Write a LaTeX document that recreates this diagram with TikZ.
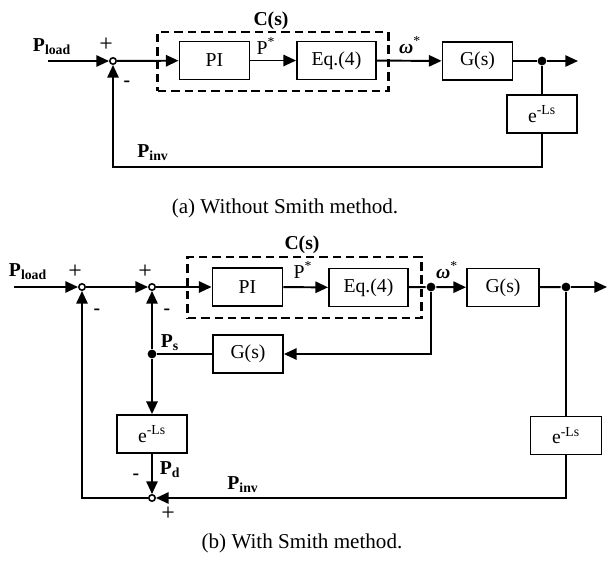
\documentclass[tikz,border=0pt]{standalone}
\usepackage{fontspec}
\setmainfont{Liberation Serif}
\usepackage{tikz}
\usetikzlibrary{arrows.meta,positioning,calc}

\begin{document}
\begin{tikzpicture}[x=0.025cm,y=-0.025cm,>={Triangle[length=9pt,width=8pt]},
  line width=1.4pt,font=\fontsize{14}{16}\selectfont,
  blk/.style={draw,line width=1.3pt,inner sep=0pt,minimum width=1.75cm,minimum height=0.95cm},
  sumj/.style={draw,circle,fill=white,line width=1.1pt,inner sep=0pt,minimum size=0.16cm},
  dotj/.style={circle,fill,inner sep=0pt,minimum size=0.22cm},
  cbox/.style={draw,line width=2.1pt,dash pattern=on 6pt off 3.5pt,inner sep=0pt},
  lbl/.style={inner sep=0pt},
  sgn/.style={inner sep=0pt,font=\fontsize{17}{19}\selectfont},
  capt/.style={inner sep=0pt,font=\fontsize{15}{17}\selectfont}]
  \useasboundingbox (0,0) rectangle (608,566);
  % (a) without Smith
  \coordinate (ina) at (48,61);
  \node[cbox,minimum width=5.75cm,minimum height=1.475cm] (ca) at (273,61.5) {};
  \node[sumj] (sa) at (113,61) {};
  \node[blk] (pia) at (214.5,60.5) {PI};
  \node[blk,minimum width=1.975cm] (eqa) at (336.5,60.5) {Eq.(4)};
  \node[blk] (ga) at (477.5,61) {G(s)};
  \node[dotj] (da) at (542,61) {};
  \coordinate (outa) at (578,61);
  \node[blk] (ea) at (542,114) {e\textsuperscript{-Ls}};
  \coordinate (ba) at (113,167);
  \draw[->] (ina) -- (sa);
  \draw[->] (sa) -- (pia);
  \draw[->] (pia) -- (eqa);
  \draw[->] (eqa) -- (ga);
  \draw (ga) -- (da);
  \draw[->] (da) -- (outa);
  \draw (da) -- (ea);
  \draw[->] (ea) |- (ba) -- (sa);
  \node[lbl] (ploada) at (52,47) {\textbf{P\textsubscript{load}}};
  \node[sgn] (pla) at (106,45) {+};
  \node[lbl] (mia) at (127,84) {\textbf{-}};
  \node[lbl] (psta) at (266,46) {P\textsuperscript{*}};
  \node[lbl] (wa) at (410,45) {\textbf{\textit{ω}}\textsuperscript{*}};
  \node[lbl] (csa) at (271,21) {\textbf{C(s)}};
  \node[lbl] (pinva) at (153,153) {\textbf{P\textsubscript{inv}}};
  \node[capt] (capa) at (285,208) {(a) Without Smith method.};
  % (b) with Smith
  \coordinate (inb) at (14,287);
  \node[cbox,minimum width=5.825cm,minimum height=1.525cm] (cb) at (304.5,287.5) {};
  \node[sumj] (s1) at (82,287) {};
  \node[sumj] (s2) at (152,287) {};
  \node[blk] (pib) at (247.5,287) {PI};
  \node[blk,minimum width=1.975cm] (eqb) at (368.5,287.5) {Eq.(4)};
  \node[dotj] (d1) at (431,287) {};
  \node[blk,minimum width=1.8cm] (gb) at (503,287.5) {G(s)};
  \node[dotj] (d2) at (566,287) {};
  \coordinate (outb) at (607,287);
  \node[blk] (gf) at (248,354) {G(s)};
  \node[dotj] (ds) at (152,354) {};
  \node[blk] (el) at (152,434) {e\textsuperscript{-Ls}};
  \node[sumj] (s3) at (152,498) {};
  \node[blk,minimum width=1.775cm] (er) at (566,435.5) {e\textsuperscript{-Ls}};
  \draw[->] (inb) -- (s1);
  \draw[->] (s1) -- (s2);
  \draw[->] (s2) -- (pib);
  \draw[->] (pib) -- (eqb);
  \draw (eqb) -- (d1);
  \draw[->] (d1) -- (gb);
  \draw (gb) -- (d2);
  \draw[->] (d2) -- (outb);
  \draw[->] (d1) |- (gf);
  \draw (gf) -- (ds);
  \draw[->] (ds) -- (s2);
  \draw[->] (ds) -- (el);
  \draw[->] (el) -- (s3);
  \draw (d2) -- (er);
  \draw[->] (er) |- (s3);
  \draw[->] (s3) -| (s1);
  \node[lbl] (ploadb) at (28,272) {\textbf{P\textsubscript{load}}};
  \node[sgn] (pl1) at (75,272) {+};
  \node[lbl] (mi1) at (97,312) {\textbf{-}};
  \node[sgn] (pl2) at (145,272) {+};
  \node[lbl] (mi2) at (167,312) {\textbf{-}};
  \node[lbl] (pstb) at (303,270) {P\textsuperscript{*}};
  \node[lbl] (wb) at (447,270) {\textbf{\textit{ω}}\textsuperscript{*}};
  \node[lbl] (csb) at (302,245) {\textbf{C(s)}};
  \node[lbl] (psb) at (170,343) {\textbf{P\textsubscript{s}}};
  \node[lbl] (pdb) at (170,470) {\textbf{P\textsubscript{d}}};
  \node[lbl] (mi3) at (136,477) {\textbf{-}};
  \node[sgn] (pl3) at (168,514) {+};
  \node[lbl] (pinvb) at (243,485) {\textbf{P\textsubscript{inv}}};
  \node[capt] (capb) at (302,543) {(b) With Smith method.};
\end{tikzpicture}
\end{document}
